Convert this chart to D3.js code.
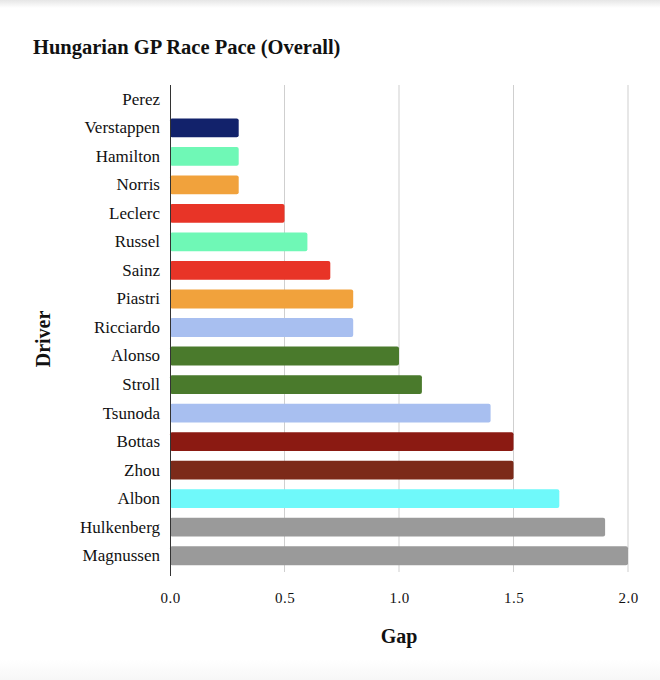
<!DOCTYPE html>
<html>
<head>
<meta charset="utf-8">
<script src="https://cdn.jsdelivr.net/npm/d3@7"></script>
<style>
	html, body { margin: 0; padding: 0; background: #fff; }
	svg { display: block; }
	text { font-family: Georgia, "Liberation Serif", serif; fill: #111; }
</style>
</head>
<body>
<svg id="chart"></svg>
<script>
var drivers = ["Perez", "Verstappen", "Hamilton", "Norris", "Leclerc", "Russel", "Sainz", "Piastri", "Ricciardo", "Alonso", "Stroll", "Tsunoda", "Bottas", "Zhou", "Albon", "Hulkenberg", "Magnussen"];
var gaps = [0, 0.3, 0.3, 0.3, 0.5, 0.6, 0.7, 0.8, 0.8, 1.0, 1.1, 1.4, 1.5, 1.5, 1.7, 1.9, 2.0];
var colors = ["#12226b", "#12226b", "#6ff8b6", "#f1a23c", "#e83427", "#6ff8b6", "#e83427", "#f1a23c", "#a8bff0", "#4a7a2c", "#4a7a2c", "#a8bff0", "#8b1a12", "#7c2a19", "#6ff9fa", "#9a9a9a", "#9a9a9a"];
var xTicks = [0, 0.5, 1.0, 1.5, 2.0];

var width = 660, height = 680;
var margin = {top: 85, right: 32, bottom: 110, left: 170};

var svg = d3.select("#chart")
	.attr("width", width)
	.attr("height", height);

// faint shadow at the top and grey strip at the bottom, like the card in the screenshot
var defs = svg.append("defs");
var g1 = defs.append("linearGradient").attr("id", "topShade").attr("x1", 0).attr("x2", 0).attr("y1", 0).attr("y2", 1);
g1.append("stop").attr("offset", 0).attr("stop-color", "#e6e6e6");
g1.append("stop").attr("offset", 1).attr("stop-color", "#fff");
svg.append("rect").attr("x", 0).attr("y", 0).attr("width", width).attr("height", 8).attr("fill", "url(#topShade)");
var g2 = defs.append("linearGradient").attr("id", "botShade").attr("x1", 0).attr("x2", 0).attr("y1", 0).attr("y2", 1);
g2.append("stop").attr("offset", 0).attr("stop-color", "#fff");
g2.append("stop").attr("offset", 1).attr("stop-color", "#f7f7f7");
svg.append("rect").attr("x", 0).attr("y", 660).attr("width", width).attr("height", 20).attr("fill", "url(#botShade)");

var x = d3.scaleLinear()
	.domain([0, 2])
	.range([margin.left, width - margin.right]);

var y = d3.scaleBand()
	.domain(drivers)
	.range([margin.top, 570])
	.paddingInner(0.34)
	.paddingOuter(0.17);

// gridlines
svg.append("g")
	.selectAll("line")
	.data(xTicks.slice(1))
	.join("line")
		.attr("x1", function(d) { return x(d); })
		.attr("x2", function(d) { return x(d); })
		.attr("y1", margin.top)
		.attr("y2", 572)
		.style("stroke", "#cfcfcf")
		.style("stroke-width", "1px");

// bars
svg.append("g")
	.selectAll("rect")
	.data(drivers)
	.join("rect")
		.attr("x", x(0))
		.attr("y", function(d) { return y(d); })
		.attr("width", function(d, i) { return x(gaps[i]) - x(0); })
		.attr("height", y.bandwidth())
		.attr("rx", 2)
		.attr("fill", function(d, i) { return colors[i]; });

// y axis
var yAxis = svg.append("g")
	.attr("transform", "translate(" + x(0) + ",0)")
	.call(d3.axisLeft(y).tickSize(0).tickPadding(10));
yAxis.select(".domain").remove();
yAxis.selectAll("text")
	.style("font-family", "Georgia, 'Liberation Serif', serif")
	.style("font-size", "17px")
	.style("fill", "#111");
svg.append("line")
	.attr("x1", x(0) + 0.5).attr("x2", x(0) + 0.5)
	.attr("y1", margin.top)
	.attr("y2", 576)
	.style("stroke", "#333")
	.style("stroke-width", "1px");

// x axis labels
var xAxis = svg.append("g")
	.attr("transform", "translate(0,572)")
	.call(d3.axisBottom(x).tickValues(xTicks).tickFormat(d3.format(".1f")).tickSize(0).tickPadding(20));
xAxis.select(".domain").remove();
xAxis.selectAll("text")
	.style("font-family", "Georgia, 'Liberation Serif', serif")
	.style("font-size", "15px")
	.style("letter-spacing", "0.5px")
	.style("fill", "#111");

// title
svg.append("text")
	.attr("x", 33)
	.attr("y", 54)
	.style("font-size", "20.5px")
	.style("font-weight", "bold")
	.text("Hungarian GP Race Pace (Overall)");

// axis titles
svg.append("text")
	.attr("x", x(1))
	.attr("y", 643)
	.attr("text-anchor", "middle")
	.style("font-size", "20px")
	.style("font-weight", "bold")
	.text("Gap");

svg.append("text")
	.attr("transform", "translate(50,339) rotate(-90)")
	.attr("text-anchor", "middle")
	.style("font-size", "20px")
	.style("font-weight", "bold")
	.text("Driver");
</script>
</body>
</html>
